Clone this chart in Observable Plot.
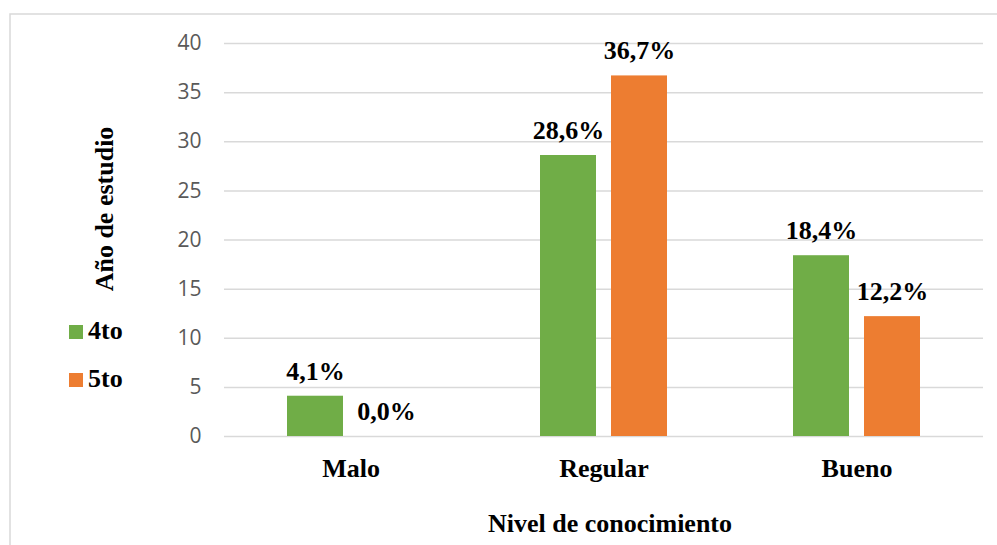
<!DOCTYPE html>
<html>
<head>
<meta charset="utf-8">
<script src="https://cdn.jsdelivr.net/npm/d3@7"></script>
<script src="https://cdn.jsdelivr.net/npm/@observablehq/plot@0.6"></script>
<style>
  html, body { margin: 0; padding: 0; background: #fff; overflow: hidden; }
  #chart { position: relative; width: 997px; height: 545px; }
</style>
</head>
<body>
<div id="chart"></div>
<script>
const categories = ["Malo", "Regular", "Bueno"];
const series = ["4to", "5to"];
const values4to = [4.1, 28.6, 18.4];
const values5to = [0.0, 36.7, 12.2];
const yTicks = [0, 5, 10, 15, 20, 25, 30, 35, 40];
const colors = ["#70AD47", "#ED7D31"];
const yTitle = "Año de estudio";
const xTitle = "Nivel de conocimiento";

const data = categories.flatMap((c, i) => [
  {cat: c, serie: series[0], value: values4to[i]},
  {cat: c, serie: series[1], value: values5to[i]}
]);

const fmt = v => v.toFixed(1).replace(".", ",") + "%";
const serif = "'Liberation Serif', 'Times New Roman', serif";

const svg = Plot.plot({
  width: 997,
  height: 545,
  marginLeft: 223,
  marginRight: 14,
  marginTop: 43,
  marginBottom: 109,
  style: {background: "transparent", overflow: "visible"},
  fx: {domain: categories, padding: 0, axis: null, label: null},
  x: {domain: series, paddingInner: 0.208, paddingOuter: 0.863, axis: null},
  y: {domain: [0, 40], axis: null},
  color: {domain: series, range: colors},
  marks: [
    Plot.ruleY(yTicks, {stroke: "#d9d9d9", strokeWidth: 1.5}),
    Plot.axisY({ticks: yTicks, tickSize: 0, tickPadding: 23, fontSize: 21, fill: "#595959",
      fontFamily: "'Open Sans', sans-serif", label: null}),
    Plot.barY(data, {fx: "cat", x: "serie", y: "value", fill: "serie"}),
    Plot.text(data, {fx: "cat", x: "serie", y: "value", text: d => fmt(d.value), dy: -25,
      fontSize: 26, fontWeight: "bold", fontFamily: serif, fill: "#000"}),
    Plot.axisFx({anchor: "bottom", tickSize: 0, tickPadding: 22, fontSize: 26, fontWeight: "bold",
      fontFamily: serif, fill: "#000", label: null})
  ]
});

const s = d3.select(svg);
// chart border
s.insert("rect", ":first-child")
  .attr("x", 10).attr("y", 14).attr("width", 1000).attr("height", 600)
  .attr("fill", "none").attr("stroke", "#d9d9d9").attr("stroke-width", 1.5);

// axis titles
s.append("text")
  .attr("transform", "translate(113,209) rotate(-90)")
  .attr("text-anchor", "middle")
  .attr("font-family", serif).attr("font-weight", "bold").attr("font-size", 26)
  .attr("fill", "#000")
  .text(yTitle);
s.append("text")
  .attr("x", 610).attr("y", 532)
  .attr("text-anchor", "middle")
  .attr("font-family", serif).attr("font-weight", "bold").attr("font-size", 26)
  .attr("fill", "#000")
  .text(xTitle);

// legend
series.forEach((name, i) => {
  const g = s.append("g").attr("transform", `translate(69,${325 + i * 48})`);
  g.append("rect").attr("width", 14).attr("height", 14).attr("fill", colors[i]);
  g.append("text").attr("x", 19).attr("y", 14)
    .attr("text-anchor", "start")
    .attr("font-family", serif).attr("font-weight", "bold").attr("font-size", 26)
    .attr("fill", "#000").text(name);
});

document.getElementById("chart").appendChild(svg);
</script>
</body>
</html>
